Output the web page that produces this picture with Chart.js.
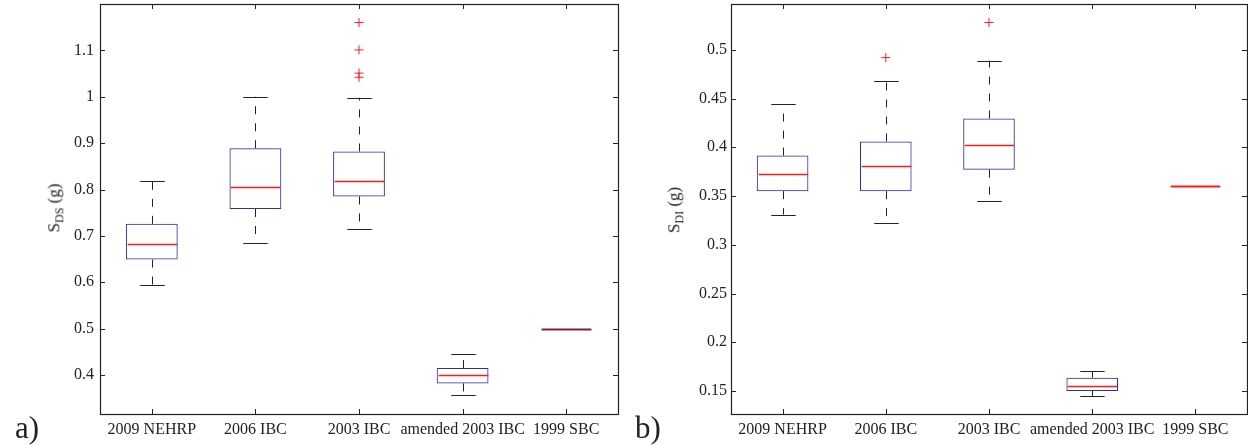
<!DOCTYPE html>
<html>
<head>
<meta charset="utf-8">
<script src="https://cdn.jsdelivr.net/npm/chart.js@4/dist/chart.umd.min.js"></script>
<style>
  body { margin: 0; background: #fff; }
  #wrap { position: relative; width: 1248px; height: 445px; font-family: "Liberation Serif", serif; color: #222; }
  .panel { position: absolute; top: 0; width: 624px; height: 445px; }
  .tag { position: absolute; font-size: 31px; line-height: 1; }
  .ylab { position: absolute; font-size: 17px; font-weight: normal; white-space: nowrap; transform: translate(-50%, -50%) rotate(-90deg); }
  .ylab sub { font-size: 12px; }
</style>
</head>
<body>
<div id="wrap">
  <div class="panel" style="left:0"><canvas id="sds"></canvas></div>
  <div class="panel" style="left:624px"><canvas id="sd1"></canvas></div>
  <div class="tag" style="left:15px; top:412px">a)</div>
  <div class="tag" style="left:635px; top:412px">b)</div>
  <div class="ylab" style="left:56px; top:208px">S<sub>DS</sub> (g)</div>
  <div class="ylab" style="left:676px; top:210px">S<sub>DI</sub> (g)</div>
</div>
<script>
const categories = ['2009 NEHRP', '2006 IBC', '2003 IBC', 'amended 2003 IBC', '1999 SBC']

// a) S_DS
const sdsLow = [0.594, 0.684, 0.715, 0.356, 0.5]
const sdsQ1 = [0.649, 0.758, 0.785, 0.382, 0.5]
const sdsMedian = [0.683, 0.806, 0.818, 0.401, 0.5]
const sdsQ3 = [0.726, 0.889, 0.882, 0.415, 0.5]
const sdsHigh = [0.819, 1.0, 0.998, 0.445, 0.5]
const sdsOutlierCat = [2, 2, 2, 2]
const sdsOutlierVal = [1.16, 1.101, 1.051, 1.042]
const sdsTicks = [0.4, 0.5, 0.6, 0.7, 0.8, 0.9, 1.0, 1.1]

// b) S_D1
const sd1Low = [0.331, 0.322, 0.345, 0.145, 0.36]
const sd1Q1 = [0.355, 0.355, 0.377, 0.150, 0.36]
const sd1Median = [0.373, 0.381, 0.402, 0.155, 0.36]
const sd1Q3 = [0.3915, 0.406, 0.4295, 0.1636, 0.36]
const sd1High = [0.444, 0.4685, 0.489, 0.170, 0.36]
const sd1OutlierCat = [1, 2]
const sd1OutlierVal = [0.492, 0.528]
const sd1Ticks = [0.15, 0.2, 0.25, 0.3, 0.35, 0.4, 0.45, 0.5]

const BLUE = '#2e2eb0'
const RED = '#ff1a1a'
const INK = '#222'

// whiskers, caps, medians, frame and inward ticks
const boxExtras = (s) => ({
  id: 'boxExtras',
  afterDatasetsDraw(chart) {
    const ctx = chart.ctx
    const xs = chart.scales.x
    const ys = chart.scales.y
    const catW = xs.getPixelForValue(1) - xs.getPixelForValue(0)
    ctx.save()
    ctx.lineWidth = 1
    for (let i = 0; i < categories.length; i++) {
      const x = Math.round(xs.getPixelForValue(i)) + 0.5
      const yLow = ys.getPixelForValue(s.low[i])
      const yQ1 = ys.getPixelForValue(s.q1[i])
      const yMed = ys.getPixelForValue(s.med[i])
      const yQ3 = ys.getPixelForValue(s.q3[i])
      const yHigh = ys.getPixelForValue(s.high[i])
      const capH = catW * 0.118
      const boxH = catW * 0.25
      if (s.high[i] > s.q3[i]) {
        ctx.strokeStyle = INK
        ctx.lineWidth = 1
        ctx.setLineDash([8, 9])
        ctx.beginPath(); ctx.moveTo(x, yQ3); ctx.lineTo(x, yHigh); ctx.stroke()
        ctx.beginPath(); ctx.moveTo(x, yQ1); ctx.lineTo(x, yLow); ctx.stroke()
        ctx.setLineDash([])
        ctx.beginPath()
        ctx.moveTo(x - capH, Math.round(yHigh) + 0.5); ctx.lineTo(x + capH, Math.round(yHigh) + 0.5)
        ctx.moveTo(x - capH, Math.round(yLow) + 0.5); ctx.lineTo(x + capH, Math.round(yLow) + 0.5)
        ctx.stroke()
      }
      ctx.strokeStyle = s.medColors[i]
      ctx.lineWidth = s.q3[i] > s.q1[i] ? 1.4 : 2
      ctx.beginPath()
      ctx.moveTo(x - boxH + 1, Math.round(yMed) + 0.5); ctx.lineTo(x + boxH - 1, Math.round(yMed) + 0.5)
      ctx.stroke()
    }
    // frame
    const a = chart.chartArea
    ctx.strokeStyle = INK
    ctx.lineWidth = 1.2
    ctx.strokeRect(Math.round(a.left) + 0.5, Math.round(a.top) + 0.5, Math.round(a.right - a.left), Math.round(a.bottom - a.top))
    // inward ticks
    ctx.lineWidth = 1
    ctx.beginPath()
    ys.ticks.forEach(t => {
      const y = Math.round(ys.getPixelForValue(t.value)) + 0.5
      ctx.moveTo(a.left, y); ctx.lineTo(a.left + 5, y)
      ctx.moveTo(a.right, y); ctx.lineTo(a.right - 5, y)
    })
    categories.forEach((c, i) => {
      const x = Math.round(xs.getPixelForValue(i)) + 0.5
      ctx.moveTo(x, a.bottom); ctx.lineTo(x, a.bottom - 5)
      ctx.moveTo(x, a.top); ctx.lineTo(x, a.top + 5)
    })
    ctx.stroke()
    ctx.restore()
  }
})

const makeChart = (id, s) => {
  const boxes = categories.map((c, i) => s.q3[i] > s.q1[i] ? [s.q1[i], s.q3[i]] : null)
  const outliers = s.outCat.map((c, i) => ({ x: categories[c], y: s.outVal[i] }))
  return new Chart(document.getElementById(id), {
    type: 'bar',
    data: {
      labels: categories,
      datasets: [{
        type: 'bar',
        data: boxes,
        borderColor: BLUE,
        backgroundColor: 'rgba(0,0,0,0)',
        borderWidth: 1,
        borderSkipped: false,
        barPercentage: 0.5,
        categoryPercentage: 1
      }, {
        type: 'scatter',
        data: outliers,
        pointStyle: 'cross',
        radius: 4.5,
        borderColor: RED,
        borderWidth: 1
      }]
    },
    options: {
      responsive: true,
      maintainAspectRatio: false,
      animation: false,
      layout: { autoPadding: false, padding: { top: 4, right: s.padRight, left: 0, bottom: 0 } },
      plugins: {
        legend: { display: false },
        tooltip: { enabled: false }
      },
      scales: {
        x: {
          type: 'category',
          grid: { display: false, drawTicks: false },
          border: { display: false },
          ticks: { color: INK, font: { family: 'Liberation Serif', size: 16 }, padding: 6, maxRotation: 0, autoSkip: false },
          afterFit: sc => { sc.height = 31; sc.paddingLeft = 0; sc.paddingRight = 0 }
        },
        y: {
          min: s.min,
          max: s.max,
          grid: { display: false, drawTicks: false },
          border: { display: false },
          ticks: {
            color: INK,
            font: { family: 'Liberation Serif', size: 16 },
            padding: s.tickPad,
            callback: v => String(+v.toFixed(2))
          },
          afterBuildTicks: sc => { sc.ticks = s.ticks.map(v => ({ value: v })) },
          afterFit: sc => { sc.width = s.yWidth; sc.paddingTop = 0; sc.paddingBottom = 0 }
        }
      }
    },
    plugins: [boxExtras(s)]
  })
}

makeChart('sds', {
  low: sdsLow, q1: sdsQ1, med: sdsMedian, q3: sdsQ3, high: sdsHigh,
  outCat: sdsOutlierCat, outVal: sdsOutlierVal, ticks: sdsTicks,
  min: 0.316, max: 1.2, yWidth: 100, padRight: 6, tickPad: 6,
  medColors: [RED, RED, RED, RED, '#7e1c52']
})
makeChart('sd1', {
  low: sd1Low, q1: sd1Q1, med: sd1Median, q3: sd1Q3, high: sd1High,
  outCat: sd1OutlierCat, outVal: sd1OutlierVal, ticks: sd1Ticks,
  min: 0.1264, max: 0.547, yWidth: 107, padRight: 1, tickPad: 4,
  medColors: [RED, RED, RED, RED, RED]
})
</script>
</body>
</html>
